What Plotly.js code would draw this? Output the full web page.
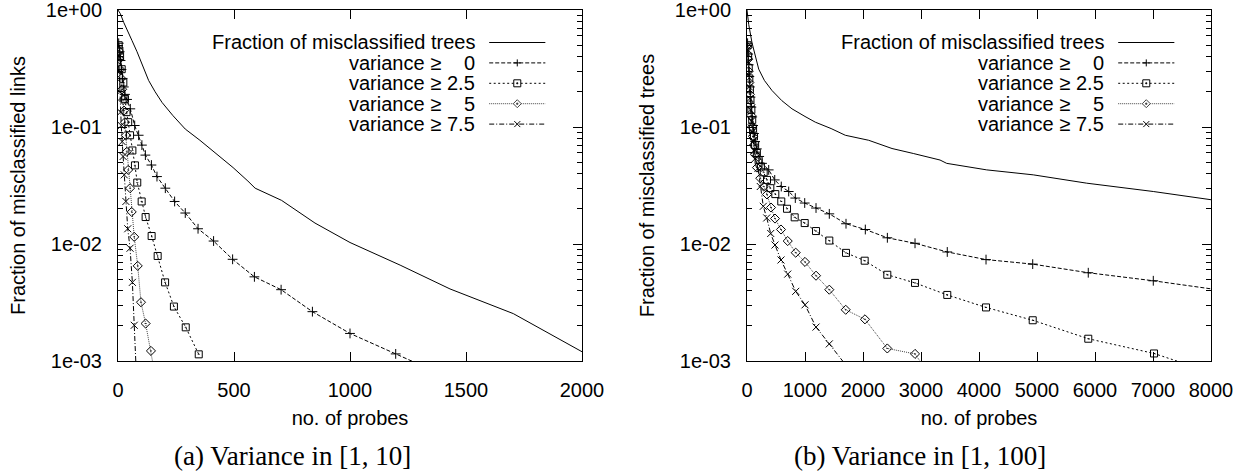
<!DOCTYPE html>
<html>
<head>
<meta charset="utf-8">
<script src="https://cdn.plot.ly/plotly-3.0.1.min.js"></script>
<style>html,body{margin:0;padding:0;background:#fff;}#chart{width:1247px;height:471px;}</style>
</head>
<body>
<div id="chart"></div>
<script>
// ---------------- DATA ----------------
// Panel (a): variance in [1, 10]
const treesA_x = [0, 10, 25, 40, 60, 82, 110, 132, 160, 190, 237, 290, 353, 420, 496, 560, 591, 705, 849, 1000, 1216, 1431, 1704, 2000];
const treesA_y = [1.0, 0.93, 0.78, 0.68, 0.55, 0.44, 0.32, 0.25, 0.2, 0.162, 0.125, 0.096, 0.077, 0.06, 0.045, 0.0345, 0.030, 0.0236, 0.0151, 0.0103, 0.0066, 0.00413, 0.00254, 0.0012];

const var0A_x = [3, 7, 11, 15, 20, 25, 30, 39, 53, 72, 89, 103, 118, 144, 168, 204, 244, 290, 345, 412, 494, 588, 703, 838, 1000, 1197, 1400];
const var0A_y = [0.52, 0.44, 0.37, 0.31, 0.26, 0.22, 0.19, 0.172, 0.143, 0.103, 0.085, 0.070, 0.0575, 0.0473, 0.0377, 0.030, 0.0231, 0.0184, 0.0135, 0.0106, 0.0074, 0.00524, 0.00407, 0.00264, 0.00172, 0.00115, 0.00076];

const var25A_x = [3, 6, 9, 16, 23, 30, 37, 44, 52, 62, 73, 83, 102, 119, 145, 171, 203, 241, 292, 348];
const var25A_y = [0.5, 0.45, 0.405, 0.312, 0.24, 0.174, 0.134, 0.110, 0.085, 0.063, 0.047, 0.0335, 0.0231, 0.017, 0.0117, 0.0079, 0.0047, 0.00292, 0.00194, 0.00114];

const var5A_x = [3, 6, 10, 14, 18, 22, 26, 30, 34, 38, 44, 52, 59, 70, 85, 99, 119, 142, 155];
const var5A_y = [0.45, 0.38, 0.31, 0.26, 0.21, 0.17, 0.138, 0.11, 0.085, 0.0614, 0.043, 0.030, 0.0188, 0.0115, 0.0065, 0.00318, 0.00209, 0.00122, 0.00085];

const var75A_x = [3, 5, 8, 11, 14, 18, 22, 27, 34, 42, 52, 62, 70, 80];
const var75A_y = [0.4, 0.3, 0.2, 0.134, 0.103, 0.075, 0.056, 0.039, 0.0231, 0.0135, 0.0092, 0.0047, 0.00202, 0.0007];

// Panel (b): variance in [1, 100]
const treesB_x = [0, 30, 86, 140, 202, 300, 431, 600, 776, 1000, 1178, 1450, 1695, 2098, 2500, 2867, 3328, 3443, 4133, 4936, 5857, 7005, 8000];
const treesB_y = [1.0, 0.75, 0.525, 0.4, 0.312, 0.25, 0.205, 0.168, 0.143, 0.123, 0.110, 0.097, 0.085, 0.077, 0.0655, 0.0594, 0.0522, 0.0489, 0.043, 0.039, 0.0331, 0.0281, 0.0239];

const var0B_x = [10, 20, 30, 40, 50, 60, 75, 90, 105, 120, 140, 170, 210, 259, 374, 478, 591, 719, 833, 995, 1190, 1419, 1707, 2040, 2420, 2897, 3453, 4121, 4926, 5884, 7005, 8500];
const var0B_y = [0.52, 0.42, 0.34, 0.27, 0.22, 0.18, 0.148, 0.122, 0.103, 0.088, 0.075, 0.065, 0.056, 0.0489, 0.043, 0.0353, 0.031, 0.0281, 0.0247, 0.0224, 0.0203, 0.0181, 0.0149, 0.0133, 0.0113, 0.01014, 0.00855, 0.00736, 0.00673, 0.00568, 0.00485, 0.00382];

const var25B_x = [10, 20, 30, 40, 50, 60, 75, 90, 105, 120, 140, 170, 200, 240, 288, 345, 402, 488, 591, 690, 822, 995, 1190, 1419, 1707, 2029, 2419, 2897, 3453, 4121, 4926, 5884, 7017, 8000];
const var25B_y = [0.5, 0.4, 0.32, 0.26, 0.21, 0.17, 0.14, 0.115, 0.097, 0.083, 0.07, 0.06, 0.052, 0.046, 0.041, 0.0353, 0.030, 0.0267, 0.0231, 0.020, 0.0169, 0.0151, 0.0129, 0.0107, 0.0084, 0.0072, 0.00546, 0.00465, 0.00367, 0.00287, 0.00223, 0.00155, 0.00116, 0.0008];

const var5B_x = [10, 20, 30, 40, 50, 60, 75, 90, 105, 120, 140, 172, 229, 288, 345, 414, 483, 586, 702, 840, 1000, 1190, 1419, 1702, 2034, 2419, 2897, 3400];
const var5B_y = [0.48, 0.38, 0.3, 0.24, 0.19, 0.155, 0.125, 0.1, 0.083, 0.07, 0.058, 0.045, 0.0365, 0.031, 0.0265, 0.0205, 0.0165, 0.0133, 0.0106, 0.00843, 0.00703, 0.00536, 0.00407, 0.00274, 0.00227, 0.00128, 0.00115, 0.0005];

const var75B_x = [10, 20, 30, 40, 50, 60, 75, 90, 105, 120, 143, 190, 229, 281, 340, 409, 483, 586, 702, 840, 1000, 1190, 1419, 2034];
const var75B_y = [0.46, 0.36, 0.28, 0.22, 0.175, 0.14, 0.112, 0.09, 0.075, 0.063, 0.0538, 0.0443, 0.031, 0.021, 0.0167, 0.0123, 0.0098, 0.0073, 0.00553, 0.00394, 0.00302, 0.00195, 0.0014, 0.00057];

// Labels
const seriesNames = ['Fraction of misclassified trees', 'variance ≥', 'variance ≥', 'variance ≥', 'variance ≥'];
const thresholds = ['', '0', '2.5', '5', '7.5'];
const yTickVals = [1, 0.1, 0.01, 0.001];
const yTickText = ['1e+00', '1e-01', '1e-02', '1e-03'];
const xTicksA = [0, 500, 1000, 1500, 2000];
const xTicksB = [0, 1000, 2000, 3000, 4000, 5000, 6000, 7000, 8000];
const yTitleA = 'Fraction of misclassified links';
const yTitleB = 'Fraction of misclassified trees';
const xTitle = 'no. of probes';
const captionA = '(a) Variance in [1, 10]';
const captionB = '(b) Variance in [1, 100]';

// ---------------- STYLE ----------------
const SANS = 'Liberation Sans, Arial, Helvetica, sans-serif';
const SERIF = 'Liberation Serif, Times New Roman, serif';
const styles = [
  {dash: 'solid', color: '#000', symbol: null},
  {dash: '4px,2px', color: '#000', symbol: 'cross-thin-open'},
  {dash: '2px,2.5px', color: '#000', symbol: 'square-open-dot'},
  {dash: '1px,1px', color: '#444', symbol: 'diamond-open-dot'},
  {dash: '5px,2px,1px,2px', color: '#000', symbol: 'x-thin-open'}
];

function mkTrace(x, y, i, xa, ya) {
  const s = styles[i];
  const t = {
    x: x, y: y, xaxis: xa, yaxis: ya, type: 'scatter',
    mode: s.symbol ? 'lines+markers' : 'lines',
    name: seriesNames[i] + (thresholds[i] ? ' ' + thresholds[i] : ''),
    line: {color: s.color, width: 1, dash: s.dash},
    hoverinfo: 'skip'
  };
  if (s.symbol) t.marker = {symbol: s.symbol, size: 7, color: '#000', line: {width: 1, color: '#000'}};
  return t;
}

const data = [
  mkTrace(treesA_x, treesA_y, 0, 'x', 'y'),
  mkTrace(var0A_x, var0A_y, 1, 'x', 'y'),
  mkTrace(var25A_x, var25A_y, 2, 'x', 'y'),
  mkTrace(var5A_x, var5A_y, 3, 'x', 'y'),
  mkTrace(var75A_x, var75A_y, 4, 'x', 'y'),
  mkTrace(treesB_x, treesB_y, 0, 'x2', 'y2'),
  mkTrace(var0B_x, var0B_y, 1, 'x2', 'y2'),
  mkTrace(var25B_x, var25B_y, 2, 'x2', 'y2'),
  mkTrace(var5B_x, var5B_y, 3, 'x2', 'y2'),
  mkTrace(var75B_x, var75B_y, 4, 'x2', 'y2')
];

// minor tick positions on the log axis
const minorVals = [];
[0.001, 0.01, 0.1].forEach(function (d) { for (let k = 2; k <= 9; k++) minorVals.push(+(k * d).toPrecision(3)); });

const W = 1247, H = 471;
const PLOT_TOP = 10, PLOT_BOTTOM = 361;
const yDom = [1 - PLOT_BOTTOM / H, 1 - PLOT_TOP / H];

function xAxis(dom, ticks, anchor) {
  return {
    domain: dom, anchor: anchor, range: [ticks[0], ticks[ticks.length - 1]],
    tickmode: 'array', tickvals: ticks, ticktext: ticks.map(String),
    ticks: 'inside', ticklen: 9, tickwidth: 1, tickcolor: '#000',
    showline: true, linecolor: '#000', linewidth: 1, mirror: 'ticks',
    showgrid: false, zeroline: false, ticklabelstandoff: 11, ticklabeloverflow: 'allow',
    tickfont: {family: SANS, size: 20, color: '#000'},
    title: {text: xTitle, font: {family: SANS, size: 20, color: '#000'}, standoff: 10},
    automargin: false, fixedrange: true
  };
}
function yAxis(anchor, title) {
  return {
    domain: yDom, anchor: anchor, type: 'log', range: [-3, 0],
    tickmode: 'array', tickvals: yTickVals, ticktext: yTickText,
    ticks: 'inside', ticklen: 9, tickwidth: 1, tickcolor: '#000',
    minor: {tickmode: 'array', tickvals: minorVals, ticks: 'inside', ticklen: 5, tickwidth: 1, tickcolor: '#000', showgrid: false},
    showline: true, linecolor: '#000', linewidth: 1, mirror: 'ticks',
    showgrid: false, zeroline: false, ticklabelstandoff: 11, ticklabeloverflow: 'allow',
    tickfont: {family: SANS, size: 20, color: '#000'},
    title: {text: title, font: {family: SANS, size: 20, color: '#000'}, standoff: 14},
    automargin: false, fixedrange: true
  };
}

// ---------------- LEGEND (gnuplot style key) ----------------
const rowPx = [42.5, 62.9, 83.3, 103.7, 124.1];
const rowY = rowPx.map(function (p) { return 1 - (p - PLOT_TOP) / (PLOT_BOTTOM - PLOT_TOP); });
const keyTextX = 0.771, keyWordX = 0.699, keyLine = [0.80, 0.921], keyMark = 0.8605;
const annotations = [], shapes = [];

function markerShapes(sym, xref, yref, xa, ya) {
  const base = {xref: xref, yref: yref, xsizemode: 'pixel', ysizemode: 'pixel', xanchor: xa, yanchor: ya, line: {color: '#000', width: 1}};
  const out = [];
  if (sym === 'cross-thin-open') {
    out.push(Object.assign({type: 'line', x0: -3.5, x1: 3.5, y0: 0, y1: 0}, base));
    out.push(Object.assign({type: 'line', x0: 0, x1: 0, y0: -3.5, y1: 3.5}, base));
  } else if (sym === 'x-thin-open') {
    out.push(Object.assign({type: 'line', x0: -3, x1: 3, y0: -3, y1: 3}, base));
    out.push(Object.assign({type: 'line', x0: -3, x1: 3, y0: 3, y1: -3}, base));
  } else if (sym === 'square-open-dot') {
    out.push(Object.assign({type: 'rect', x0: -3.5, x1: 3.5, y0: -3.5, y1: 3.5, fillcolor: '#fff'}, base));
    out.push(Object.assign({type: 'rect', x0: -0.5, x1: 0.5, y0: -0.5, y1: 0.5, fillcolor: '#000'}, base));
  } else if (sym === 'diamond-open-dot') {
    out.push(Object.assign({type: 'path', path: 'M0,4 L4,0 L0,-4 L-4,0 Z', fillcolor: '#fff'}, base, {line: {color: '#444', width: 1}}));
    out.push(Object.assign({type: 'rect', x0: -0.6, x1: 0.6, y0: -0.6, y1: 0.6, fillcolor: '#444'}, base, {line: {color: '#444', width: 1}}));
  }
  return out;
}

[['x domain', 'y domain'], ['x2 domain', 'y2 domain']].forEach(function (ref) {
  const xr = ref[0], yr = ref[1];
  for (let i = 0; i < seriesNames.length; i++) {
    const font = {family: SANS, size: 20, color: '#000'};
    if (thresholds[i] === '') {
      annotations.push({xref: xr, yref: yr, x: keyTextX, y: rowY[i], xanchor: 'right', yanchor: 'middle', text: seriesNames[i], showarrow: false, font: font, borderpad: 0});
    } else {
      annotations.push({xref: xr, yref: yr, x: keyWordX, y: rowY[i], xanchor: 'right', yanchor: 'middle', text: seriesNames[i], showarrow: false, font: font, borderpad: 0});
      annotations.push({xref: xr, yref: yr, x: keyTextX, y: rowY[i], xanchor: 'right', yanchor: 'middle', text: thresholds[i], showarrow: false, font: font, borderpad: 0});
    }
    shapes.push({type: 'line', xref: xr, yref: yr, x0: keyLine[0], x1: keyLine[1], y0: rowY[i], y1: rowY[i], line: {color: styles[i].color, width: 1, dash: styles[i].dash}});
    if (styles[i].symbol) markerShapes(styles[i].symbol, xr, yr, keyMark, rowY[i]).forEach(function (s) { shapes.push(s); });
  }
});

// captions
annotations.push({xref: 'paper', yref: 'paper', x: 292 / W, y: 1 - 456 / H, xanchor: 'center', yanchor: 'middle', text: captionA, showarrow: false, font: {family: SERIF, size: 27, color: '#000'}});
annotations.push({xref: 'paper', yref: 'paper', x: 920 / W, y: 1 - 456 / H, xanchor: 'center', yanchor: 'middle', text: captionB, showarrow: false, font: {family: SERIF, size: 27, color: '#000'}});

const layout = {
  width: W, height: H,
  margin: {l: 0, r: 0, t: 0, b: 0, pad: 0},
  paper_bgcolor: '#fff', plot_bgcolor: '#fff',
  showlegend: false,
  xaxis: xAxis([118 / W, 582 / W], xTicksA, 'y'),
  yaxis: yAxis('x', yTitleA),
  xaxis2: xAxis([747 / W, 1211 / W], xTicksB, 'y2'),
  yaxis2: yAxis('x2', yTitleB),
  annotations: annotations,
  shapes: shapes
};

Plotly.newPlot('chart', data, layout, {displayModeBar: false, staticPlot: true});
</script>
</body>
</html>
